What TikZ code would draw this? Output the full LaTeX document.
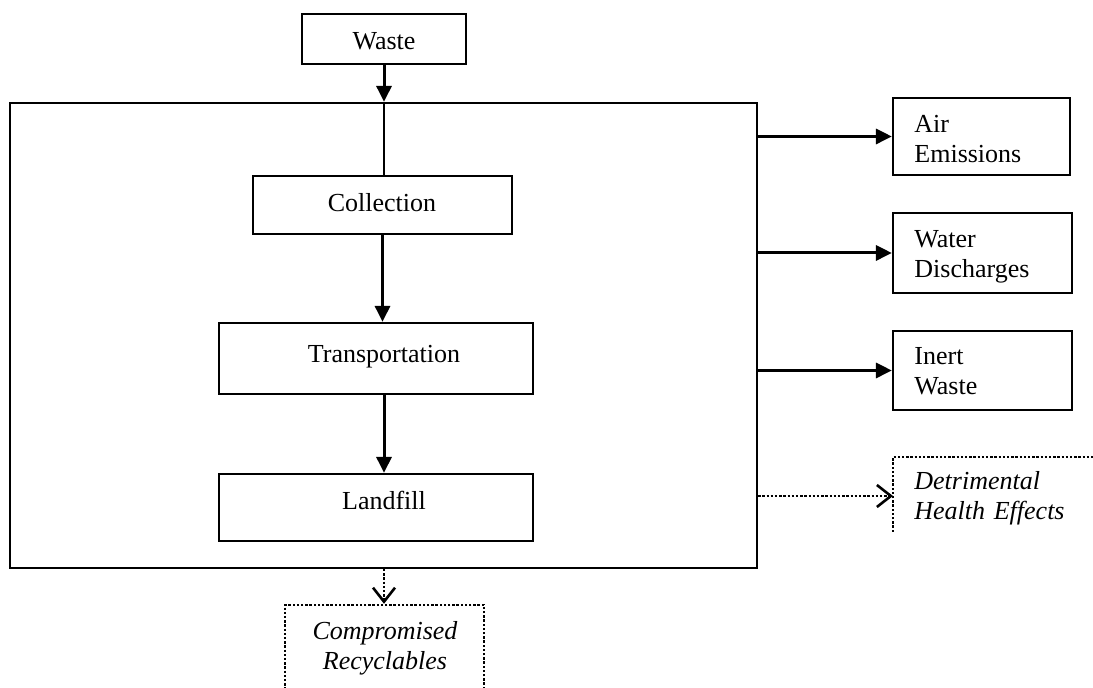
\documentclass[tikz,border=0pt]{standalone}
\usepackage{fontspec}
\setmainfont{Liberation Serif}
\usetikzlibrary{arrows.meta,fit}
\begin{document}
\begin{tikzpicture}[x=0.5pt,y=-0.5pt,
  font=\fontsize{13pt}{15pt}\selectfont,
  frame/.style={draw, line width=1.1pt, inner sep=0pt},
  dotline/.style={line width=1.2pt, dash pattern=on 1.2pt off 0.9pt},
  flow/.style={line width=1.5pt, -{Triangle[length=8pt,width=7.5pt]}},
  dotflow/.style={dotline, -{Straight Barb[length=7pt,width=11pt,line width=1.3pt]}},
  ctxt/.style={inner sep=0pt, anchor=base},
  ltxt/.style={inner sep=0pt, anchor=base west, text width=85pt, align=left},
  mtxt/.style={inner sep=0pt, anchor=base, text width=100pt, align=center}]

% page
\fill[white] (0,0) rectangle (1093,688);
\useasboundingbox (0,0) rectangle (1093,688);

% boxes
\node[frame, fit={(302,14) (466,64)}] (waste) {};
\node[frame, fit={(10,103) (757,568)}] (system) {};
\node[frame, fit={(253,176) (512,234)}] (coll) {};
\node[frame, fit={(219,323) (533,394)}] (trans) {};
\node[frame, fit={(219,474) (533,541)}] (land) {};
\node[frame, fit={(893,98) (1070,175)}] (air) {};
\node[frame, fit={(893,213) (1072,293)}] (water) {};
\node[frame, fit={(893,331) (1072,410)}] (inert) {};
\node[draw, dotline, inner sep=0pt, fit={(285,605) (484,700)}] (recyc) {};

% open dotted frame of the health box
\coordinate (harmin) at (893,496);
\draw[dotline] (893,532) -- (893,457) -- (1110,457);

% texts
\node[ctxt] (wastetxt) at (384,50) {Waste};
\node[ctxt] (colltxt) at (382,212) {Collection};
\node[ctxt] (transtxt) at (384,363) {Transportation};
\node[ctxt] (landtxt) at (384,510) {Landfill};
\node[ltxt] (airtxt) at (914,133) {Air\\Emissions};
\node[ltxt] (watertxt) at (914,248) {Water\\Discharges};
\node[ltxt] (inerttxt) at (914,365) {Inert\\Waste};
\node[ltxt, font=\fontsize{13pt}{15pt}\selectfont\itshape] (harmtxt) at (914,490) {Detrimental\\Health Effects};
\node[mtxt, font=\fontsize{13pt}{15pt}\selectfont\itshape] (recyctxt) at (385,640) {Compromised\\Recyclables};

% main flow
\draw[flow] (waste.south) -- (waste.south |- system.north);
\draw[line width=1.1pt] (waste.south |- system.north) -- (waste.south |- coll.north);
\draw[flow] (coll.south) -- (coll.south |- trans.north);
\draw[flow] (waste.south |- trans.south) -- (waste.south |- land.north);
\draw[dotflow] (waste.south |- system.south) -- (waste.south |- recyc.north);

% outputs
\draw[flow] (system.east |- air.west) -- (air.west);
\draw[flow] (system.east |- water.west) -- (water.west);
\draw[flow] (system.east |- inert.west) -- (inert.west);
\draw[dotflow] (system.east |- harmin) -- (harmin);
\end{tikzpicture}
\end{document}
